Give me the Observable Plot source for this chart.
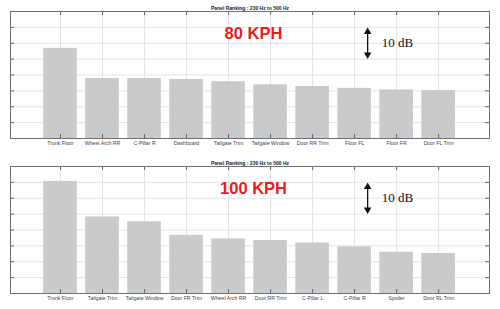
<!DOCTYPE html>
<html>
<head>
<meta charset="utf-8">
<script src="https://cdn.jsdelivr.net/npm/d3@7"></script>
<script src="https://cdn.jsdelivr.net/npm/@observablehq/plot@0.6"></script>
<style>
  html, body { margin: 0; padding: 0; background: #fff; }
  svg { display: block; }
</style>
</head>
<body>
<script>
// ---- Data ----
const panelTitle = "Panel Ranking : 230 Hz to 500 Hz";

const speed80 = "80 KPH";
const cats80 = ["Trunk Floor", "Wheel Arch RR", "C-Pillar R", "Dashboard", "Tailgate Trim",
                "Tailgate Window", "Door RR Trim", "Floor FL", "Floor FR", "Door FL Trim"];
const vals80 = [28.4, 18.9, 18.9, 18.6, 17.9, 16.9, 16.4, 15.8, 15.3, 15.1];

const speed100 = "100 KPH";
const cats100 = ["Trunk Floor", "Tailgate Trim", "Tailgate Window", "Door FR Trim", "Wheel Arch RR",
                 "Door RR Trim", "C-Pillar L", "C-Pillar R", "Spoiler", "Door RL Trim"];
const vals100 = [35.3, 24.1, 22.6, 18.3, 17.2, 16.7, 15.9, 14.7, 13.0, 12.6];

const yGrid = [5, 10, 15, 20, 25, 30, 35];
const scaleLabel = "10 dB";
const scaleSpan = [25, 35]; // dB span shown by the double arrow

function panel(cats, vals, speed, height, marginBottom) {
  const data = cats.map((c, i) => ({c, i: i + 1, v: vals[i]}));
  const idx = data.map(d => d.i);
  const mL = 10, mR = 11, mT = 11;
  const bw = 500 - mL - mR;
  const bh = height - mT - marginBottom;
  const arrowX = 8.31;
  return Plot.plot({
    width: 500,
    height,
    marginTop: mT,
    marginLeft: mL,
    marginRight: mR,
    marginBottom,
    x: {type: "linear", domain: [-0.19, 11.21], axis: null},
    y: {domain: [0, 40], axis: null},
    style: {fontFamily: "'Liberation Sans', Arial, sans-serif", background: "#fff"},
    marks: [
      Plot.gridY(yGrid, {stroke: "#e3e3e3", strokeOpacity: 1}),
      Plot.gridX(idx, {stroke: "#e3e3e3", strokeOpacity: 1}),
      Plot.rectY(data, {x1: d => d.i - 0.4, x2: d => d.i + 0.4, y1: 0, y2: "v", fill: "#c9cacc"}),
      // inward ticks
      Plot.tickX(idx, {x: d => d, stroke: "#666", insetTop: bh - 4}),
      Plot.tickX(idx, {x: d => d, stroke: "#666", insetBottom: bh - 4}),
      Plot.tickY(yGrid, {y: d => d, stroke: "#666", insetRight: bw - 4}),
      Plot.tickY(yGrid, {y: d => d, stroke: "#666", insetLeft: bw - 4}),
      Plot.frame({stroke: "#707070"}),
      // category labels
      Plot.axisX(idx, {
        anchor: "bottom", tickSize: 0, tickPadding: 3,
        tickFormat: i => cats[i - 1], fontSize: 5.2, fill: "#444"
      }),
      // panel title
      Plot.text([panelTitle], {frameAnchor: "top", dy: -5, fontSize: 5, fontWeight: "bold", fill: "#222"}),
      // speed label
      Plot.text([speed], {frameAnchor: "top", dx: 3.5, dy: 16, fontSize: 16.5, fontWeight: "bold", fill: "#ea1d1d"}),
      // 10 dB scale arrow
      Plot.ruleX([arrowX], {y1: scaleSpan[0] + 1, y2: scaleSpan[1] - 1, stroke: "#111", strokeWidth: 1.3}),
      Plot.dot([scaleSpan[1]], {x: arrowX, y: d => d - 1.4, symbol: "triangle", r: 2.8, fill: "#111", stroke: null}),
      Plot.dot([scaleSpan[0]], {x: arrowX, y: d => d + 1.4, symbol: "triangle", r: 2.8, fill: "#111", stroke: null, rotate: 180}),
      Plot.text([scaleLabel], {x: arrowX, y: (scaleSpan[0] + scaleSpan[1]) / 2, dx: 14, textAnchor: "start",
        fontSize: 13, fontFamily: "'Liberation Serif', 'Times New Roman', serif", fill: "#111"})
    ]
  });
}

document.body.append(panel(cats80, vals80, speed80, 155, 17));
document.body.append(panel(cats100, vals100, speed100, 154, 16));
</script>
</body>
</html>
